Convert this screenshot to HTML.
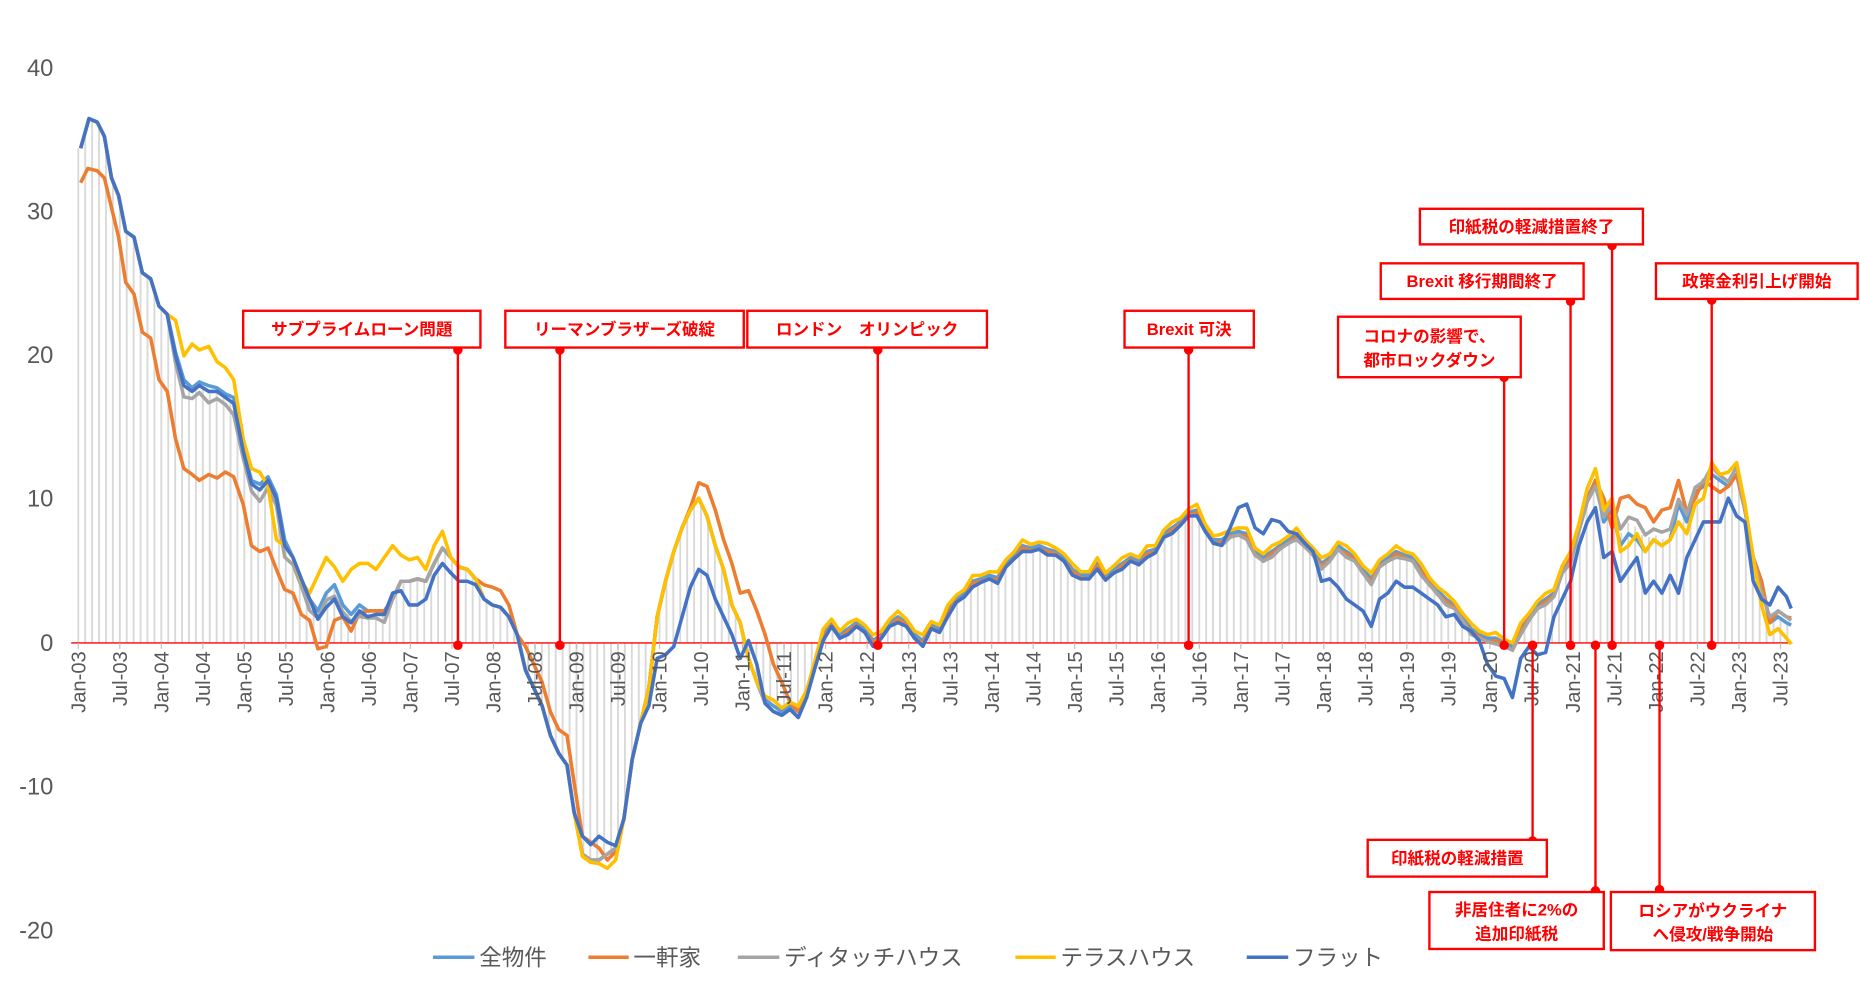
<!DOCTYPE html>
<html><head><meta charset="utf-8">
<style>
html,body{margin:0;padding:0;background:#fff;}
svg{display:block;}
text{font-family:"Liberation Sans","Noto Sans CJK JP",sans-serif;}
.ax{fill:#595959;font-size:20px;}
.xl{fill:#595959;font-size:17px;}
.lg{fill:#595959;font-size:19px;}
.an{fill:#ff0000;font-size:14px;font-weight:bold;font-family:"Liberation Sans","Noto Sans CJK JP",sans-serif;}
</style></head><body>
<svg id="c" width="1860" height="997" viewBox="0 0 1568 840.5" preserveAspectRatio="none" xmlns="http://www.w3.org/2000/svg">
<g id="bars"></g>
<line x1="60" y1="542" x2="1511" y2="542" stroke="#ff0000" stroke-width="1.2"/>
<g id="ticks"></g>
<g id="lines" fill="none" stroke-width="3" stroke-linejoin="round"></g>
<g class="ax" text-anchor="end">
<text x="45" y="64">40</text><text x="45" y="185">30</text><text x="45" y="306">20</text>
<text x="45" y="427">10</text><text x="45" y="549">0</text><text x="45" y="670">-10</text><text x="45" y="791">-20</text>
</g>
<g id="xl" class="xl"></g>
<g class="lg">
<line x1="365" y1="807" x2="400" y2="807" stroke="#5b9bd5" stroke-width="3"/><text x="404" y="814">全物件</text>
<line x1="496" y1="807" x2="530" y2="807" stroke="#ed7d31" stroke-width="3"/><text x="534" y="814">一軒家</text>
<line x1="622" y1="807" x2="657" y2="807" stroke="#a5a5a5" stroke-width="3"/><text x="661" y="814">ディタッチハウス</text>
<line x1="856" y1="807" x2="890" y2="807" stroke="#ffc000" stroke-width="3"/><text x="894" y="814">テラスハウス</text>
<line x1="1051" y1="807" x2="1086" y2="807" stroke="#4472c4" stroke-width="3"/><text x="1090" y="814">フラット</text>
</g>
<g id="ann" stroke="#ff0000" stroke-width="2"></g>
</svg>
<script>
var NS="http://www.w3.org/2000/svg";
function el(t,a,p,txt){var e=document.createElementNS(NS,t);for(var k in a)e.setAttribute(k,a[k]);if(txt)e.textContent=txt;p.appendChild(e);return e;}
var base=[[68,125],[75,100],[82,103],[88,115],[94,150],[100,165],[106,195],[113,200],[120,230],[127,235],[134,258],[141,265],[148,300],[155,325],[162,330],[168,325],[176,330],[183,330],[190,335],[197,340],[205,380],[212,408],[219,413],[226,405],[233,420],[240,460],[247,470],[254,488],[261,505],[268,515],[275,500],[282,493],[289,510],[296,518],[303,510],[310,515],[317,515],[324,515],[331,505],[338,490],[345,490],[352,488],[359,490],[366,475],[373,462],[380,470],[387,478],[394,480],[401,488],[408,505],[415,510],[422,512],[429,520],[436,535],[443,565],[450,580],[457,595],[464,620],[471,635],[478,645],[484,685],[491,720],[498,725],[505,725],[512,720],[519,715],[526,690],[533,640],[540,610],[547,580],[554,520],[561,490],[568,465],[575,445],[582,430],[589,420],[596,435],[603,460],[610,480],[617,510],[624,525],[631,555],[638,575],[645,590],[652,595],[659,600],[666,595],[673,600],[680,585],[687,560],[694,535],[701,525],[708,535],[715,530],[722,525],[729,530],[736,540],[743,535],[750,525],[757,520],[764,525],[771,535],[778,540],[785,527],[792,530],[799,515],[806,505],[813,500],[820,490],[827,488],[834,485],[841,487],[848,475],[855,468],[862,460],[869,462],[876,460],[883,463],[890,465],[897,470],[904,480],[911,485],[918,485],[925,475],[932,486],[939,480],[946,475],[953,470],[960,473],[967,465],[974,463],[981,450],[988,445],[995,440],[1002,432],[1009,430],[1016,445],[1023,455],[1030,455],[1037,450],[1044,448],[1051,450],[1058,465],[1065,470],[1072,465],[1079,460],[1086,455],[1093,450],[1100,458],[1107,465],[1114,475],[1121,470],[1128,460],[1135,465],[1142,470],[1149,480],[1156,488],[1163,475],[1170,470],[1177,465],[1184,468],[1191,470],[1198,480],[1205,490],[1212,498],[1219,505],[1226,510],[1233,520],[1240,530],[1247,535],[1254,538],[1261,538],[1268,542],[1275,545],[1282,530],[1289,520],[1296,510],[1303,505],[1310,500],[1317,480],[1324,470],[1331,445],[1338,420],[1345,405],[1352,440],[1359,430],[1366,450],[1373,440],[1380,445],[1387,455],[1394,450],[1401,455],[1408,450],[1415,425],[1422,440],[1429,415],[1436,410],[1443,400],[1450,405],[1457,410],[1464,400],[1471,430],[1478,470],[1485,490],[1492,525],[1499,520],[1506,525],[1510,527]];
function merge(ov){
  var pts=base.filter(function(p){for(var i=0;i<ov.length;i++){var s=ov[i];if(p[0]>=s[0][0]&&p[0]<=s[s.length-1][0])return false;}return true;});
  ov.forEach(function(s){pts=pts.concat(s);});
  pts.sort(function(a,b){return a[0]-b[0];});return pts;}
function shift(dy,x0,x1){return base.filter(function(p){return p[0]>=x0&&p[0]<=x1;}).map(function(p,i){return [p[0],p[1]+dy*(i%3==1?1.6:1)];});}
var orange=merge([
[[68,154],[74,142],[82,144],[88,150],[94,175],[100,200],[106,238],[113,248],[120,280],[127,285],[134,320],[141,330],[148,370],[155,395],[162,400],[168,405],[176,400],[183,403],[190,398],[197,402],[205,425],[212,460],[219,465],[226,462],[233,480],[240,497],[247,500],[254,518],[261,523],[268,547],[275,545],[282,523],[289,520],[296,532],[303,517],[310,515]],
[[408,493],[415,495],[422,498],[429,510],[436,535],[443,545],[450,560],[457,575],[464,600],[471,615],[478,620],[484,660],[491,705],[498,710],[505,715],[512,725],[519,718]],
[[582,428],[589,407],[596,410],[603,430],[610,455],[617,475],[624,500],[631,498],[638,515],[645,535],[652,560],[659,575],[666,592]],
shift(2,680,1340),
[[1352,420],[1359,445],[1366,420],[1373,418],[1380,425],[1387,428],[1394,440],[1401,430],[1408,428],[1415,405],[1422,432],[1429,420],[1436,405],[1443,410],[1450,415]],
[[1499,515],[1506,520],[1510,521]]]);
var yellow=merge([
[[148,270],[155,300],[162,290],[168,295],[176,292],[183,305],[190,310],[197,320],[205,370],[212,395],[219,398],[226,410],[233,455],[240,460],[247,470],[254,490],[261,500],[268,485],[275,470],[282,478],[289,490],[296,480],[303,475],[310,475],[317,480],[324,470],[331,460],[338,468],[345,472],[352,470],[359,480],[366,460],[373,448]],
[[491,722],[498,727],[505,728],[512,732],[519,725]],
shift(-3,640,1331),
[[1338,412],[1345,395],[1352,430],[1359,420],[1366,465],[1373,460],[1380,450],[1387,465],[1394,455],[1401,460],[1408,455],[1415,440],[1422,450],[1429,425],[1436,420],[1443,390],[1450,400],[1457,398],[1464,390],[1471,425]],
[[1485,510],[1492,535],[1499,530],[1506,538],[1510,543]]]);
var gray=merge([shift(6,148,330),shift(3,640,1345),shift(-4,1352,1470),[[1485,500],[1492,520],[1499,515],[1506,520],[1510,523]]]);
var all=merge([shift(-3,148,240),[[1366,460],[1373,450],[1380,455],[1387,465],[1394,455],[1401,460],[1408,455]]]);
var flat=merge([
[[268,522],[275,512],[282,505],[289,520],[296,525],[303,515],[310,520],[317,518],[324,518],[331,500],[338,498],[345,510],[352,510],[359,505],[366,485],[373,475],[380,483],[387,490],[394,490],[401,493]],
[[491,705],[498,712],[505,705],[512,710],[519,713]],
[[547,595],[554,555],[561,552],[568,545],[575,520],[582,495],[589,480],[596,485],[603,505],[610,520],[617,535],[624,555],[631,540],[638,560]],
shift(3,645,1030),
[[1037,445],[1044,428],[1051,425],[1058,445],[1065,450],[1072,438],[1079,440],[1086,448]],
[[1114,490],[1121,488],[1128,495],[1135,505],[1142,510],[1149,515],[1156,528],[1163,505],[1170,500],[1177,490],[1184,495],[1191,495],[1198,500],[1205,505],[1212,510],[1219,520],[1226,518],[1233,528],[1240,532],[1247,540],[1254,560],[1261,570],[1268,572],[1275,588],[1282,555],[1289,545],[1296,552],[1303,550],[1310,520],[1317,505],[1324,490],[1331,460],[1338,440],[1345,428],[1352,470],[1359,465],[1366,490],[1373,480],[1380,470],[1387,500],[1394,490],[1401,500],[1408,485],[1415,500],[1422,470],[1429,455],[1436,440],[1443,440],[1450,440],[1457,420],[1464,435],[1471,440],[1478,490],[1485,505],[1492,510],[1499,495],[1506,503],[1510,513]]]);
var L=document.getElementById("lines");
[[all,"#5b9bd5"],[orange,"#ed7d31"],[gray,"#a5a5a5"],[yellow,"#ffc000"],[flat,"#4472c4"]].forEach(function(s){
  el("polyline",{points:s[0].map(function(p){return p.join(",");}).join(" "),stroke:s[1]},L);});
function interp(x){for(var i=1;i<base.length;i++){if(base[i][0]>=x){var a=base[i-1],b=base[i];return a[1]+(b[1]-a[1])*(x-a[0])/(b[0]-a[0]);}}return base[base.length-1][1];}
var B=document.getElementById("bars");
for(var m=0;m<=247;m++){var x=66+m*5.833;var y=interp(Math.max(x,68));el("line",{x1:x,x2:x,y1:542,y2:y,stroke:"#d9d9d9","stroke-width":1.6},B);}
var T=document.getElementById("ticks"),X=document.getElementById("xl");
for(var k=0;k<42;k++){var tx=66+k*35;el("line",{x1:tx,x2:tx,y1:542,y2:547,stroke:"#bfbfbf","stroke-width":1},T);
 var yr=3+Math.floor(k/2);var lab=(k%2?"Jul-":"Jan-")+(yr<10?"0"+yr:yr);
 el("text",{transform:"translate("+(tx+6)+",549) rotate(-90)","text-anchor":"end"},X,lab);}
var A=document.getElementById("ann");
function box(x,y,w,h,lines){el("rect",{x:x,y:y,width:w,height:h,fill:"#fff"},A);
 lines.forEach(function(t,i){el("text",{x:x+w/2,y:y+(lines.length==1?h/2+5:h/2-4+i*20),"text-anchor":"middle",class:"an",stroke:"none"},A,t);});}
function vl(x,y1,y2){el("line",{x1:x,x2:x,y1:y1,y2:y2},A);el("circle",{cx:x,cy:y1,r:4,fill:"#ff0000",stroke:"none"},A);el("circle",{cx:x,cy:y2,r:4,fill:"#ff0000",stroke:"none"},A);}
vl(386,295,544);vl(472,295,544);vl(740,295,544);vl(1002,295,544);vl(1268,318,544);vl(1324,254,544);vl(1359,207,544);vl(1443,253,544);
vl(1292,544,709);vl(1345,544,751);vl(1399,544,750);
box(205,262,200,31,["サブプライムローン問題"]);
box(426,262,201,31,["リーマンブラザーズ破綻"]);
box(630,262,202,31,["ロンドン　オリンピック"]);
box(948,262,109,31,["Brexit 可決"]);
box(1128,267,154,51,["コロナの影響で、","都市ロックダウン"]);
box(1164,222,171,30,["Brexit 移行期間終了"]);
box(1197,176,188,30,["印紙税の軽減措置終了"]);
box(1396,222,170,30,["政策金利引上げ開始"]);
box(1153,708,151,31,["印紙税の軽減措置"]);
box(1205,752,147,48,["非居住者に2%の","追加印紙税"]);
box(1358,752,172,49,["ロシアがウクライナ","へ侵攻/戦争開始"]);
</script>
</body></html>
